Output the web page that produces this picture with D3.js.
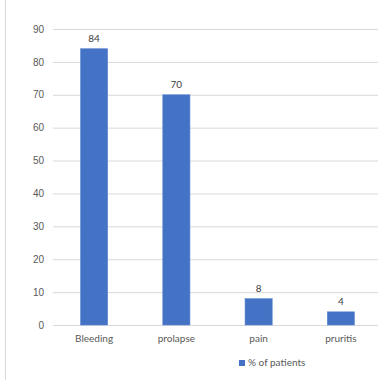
<!DOCTYPE html>
<html>
<head>
<meta charset="utf-8">
<script src="https://cdn.jsdelivr.net/npm/d3@7"></script>
<style>
  body { margin: 0; background: #fff; }
  svg { display: block; }
</style>
</head>
<body>
<div id="chart"></div>
<script>
// values
let categories = ["Bleeding", "prolapse", "pain", "pruritis"];
let values = [84, 70, 8, 4];
let yTicks = [0, 10, 20, 30, 40, 50, 60, 70, 80, 90];
let seriesName = "% of patients";

let width = 378, height = 380;
let margin = { top: 29, right: -4, bottom: 55, left: 53 };

let svg = d3.select("#chart").append("svg")
  .attr("width", width)
  .attr("height", height)
  .style("font-family", "Lato, 'Open Sans', sans-serif");

// faint frame line on the left
svg.append("line")
  .attr("x1", 5.5).attr("x2", 5.5)
  .attr("y1", 0).attr("y2", height)
  .attr("stroke", "#d9d9d9");

let x = d3.scaleBand()
  .domain(categories)
  .range([margin.left, width - margin.right])
  .paddingInner(0.67)
  .paddingOuter(0.335);

let y = d3.scaleLinear()
  .domain([0, 90])
  .range([height - margin.bottom, margin.top]);

// gridlines + y labels
let yAxis = d3.axisLeft(y)
  .tickValues(yTicks)
  .tickSize(-(width - margin.left))
  .tickPadding(9);

svg.append("g")
  .attr("transform", `translate(${margin.left},0)`)
  .call(yAxis)
  .call(g => g.select(".domain").remove())
  .call(g => g.selectAll(".tick line").attr("stroke", "#d9d9d9"))
  .call(g => g.selectAll(".tick text")
    .attr("fill", "#595959")
    .style("font-size", "10px"));

// bars
svg.append("g")
  .selectAll("rect")
  .data(values)
  .join("rect")
  .attr("x", (d, i) => x(categories[i]))
  .attr("y", d => y(d))
  .attr("width", x.bandwidth())
  .attr("height", d => y(0) - y(d))
  .attr("fill", "#4472c4")
  .attr("stroke", "#5b86d0")
  .attr("stroke-width", 0.6);

// value labels
svg.append("g")
  .selectAll("text")
  .data(values)
  .join("text")
  .attr("x", (d, i) => x(categories[i]) + x.bandwidth() / 2)
  .attr("y", d => y(d) - 7)
  .attr("text-anchor", "middle")
  .attr("fill", "#404040")
  .style("font-size", "10px")
  .text(d => d);

// category labels
svg.append("g")
  .selectAll("text")
  .data(categories)
  .join("text")
  .attr("x", d => x(d) + x.bandwidth() / 2)
  .attr("y", y(0) + 17)
  .attr("text-anchor", "middle")
  .attr("fill", "#595959")
  .style("font-size", "10px")
  .text(d => d);

// legend
let legend = svg.append("g").attr("transform", "translate(239,366)");
legend.append("rect")
  .attr("x", 0).attr("y", -6)
  .attr("width", 6).attr("height", 6)
  .attr("fill", "#4472c4");
legend.append("text")
  .attr("x", 9).attr("y", 0)
  .attr("fill", "#595959")
  .style("font-size", "10px")
  .text(seriesName);
</script>
</body>
</html>
